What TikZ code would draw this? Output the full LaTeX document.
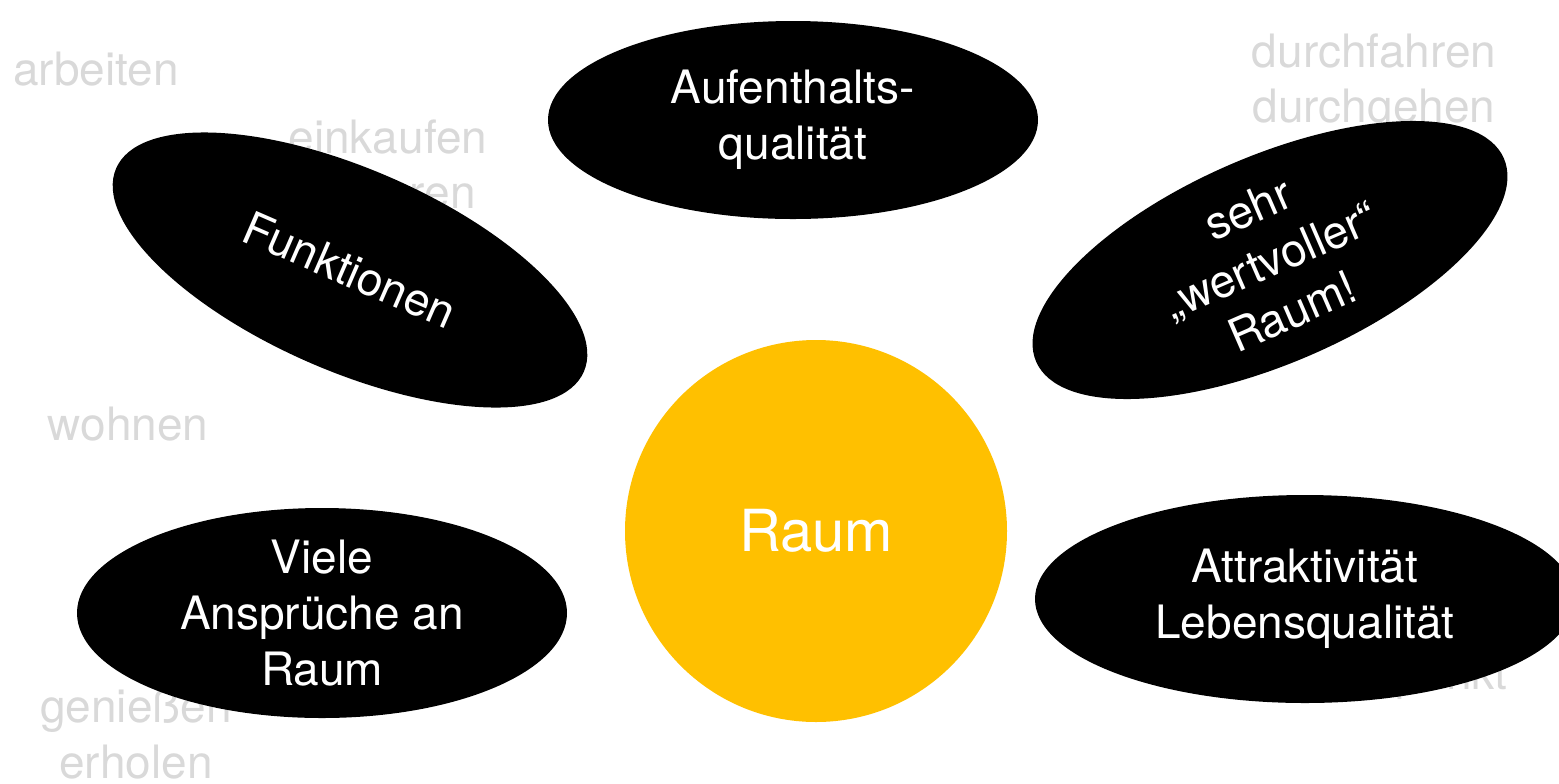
\documentclass[tikz,border=0pt]{standalone}
\usepackage{fontspec}
\setmainfont{TeX Gyre Heros}
\usetikzlibrary{shapes.geometric}
\definecolor{raumgelb}{RGB}{255,192,0}
\definecolor{wortgrau}{RGB}{217,217,217}

\begin{document}
\begin{tikzpicture}[x=0.5pt,y=-0.5pt,
    wort/.style={anchor=base, text=wortgrau, inner sep=0pt, font=\fontsize{23}{28}\selectfont},
    blase/.style={ellipse, fill=black, text=white, inner sep=0pt, align=center, font=\fontsize{23}{28}\selectfont}]

            % \draw [help lines] (0,0) grid (1559,783);
            \useasboundingbox (0,0) rectangle (1559,783);
            \clip (0,0) rectangle (1559,783);

            % graue Begriffe im Hintergrund
            \path   (96,85) node (arb) [wort] {arbeiten}
                    (388,153) node (ein) [wort] {einkaufen}
                    (388,208) node (fla) [wort] {flanieren}
                    (1374,67) node (dfa) [wort] {durchfahren}
                    (1374,122) node (dge) [wort] {durchgehen}
                    (128,440) node (woh) [wort] {wohnen}
                    (136,722) node (gen) [wort] {genießen}
                    (136,778) node (erh) [wort] {erholen}
                    (1508,689) node (tre) [wort, anchor=base east] {Treffpunkt};

            % schwarze Blasen
            \path   (793,120) node (auf) [blase, minimum width=245pt, minimum height=99pt] {Aufenthalts-\\qualität}
                    (350,270) node (fun) [blase, minimum width=255pt, minimum height=101pt, rotate=-23.5] {Funktionen}
                    (1270,260) node (wer) [blase, minimum width=255pt, minimum height=101pt, rotate=23.5] {sehr\\„wertvoller“\\Raum!}
                    (322,613) node (anp) [blase, minimum width=245pt, minimum height=105pt] {Viele\\Ansprüche an\\Raum}
                    (1305,599) node (att) [blase, minimum width=270pt, minimum height=104pt] {Attraktivität\\Lebensqualität};

            % Mitte
            \node (raum) [circle, fill=raumgelb, text=white, inner sep=0pt, minimum size=191pt, font=\fontsize{29}{34}\selectfont] at (816,531) {Raum};

\end{tikzpicture}
\end{document}
